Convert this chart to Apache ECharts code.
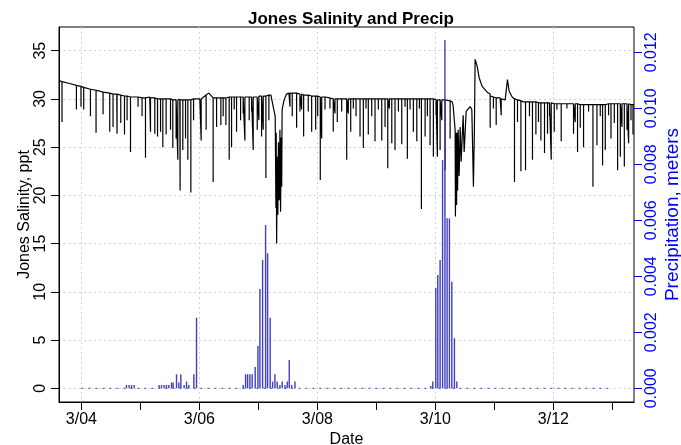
<!DOCTYPE html>
<html>
<head>
<meta charset="utf-8">
<script src="https://cdn.jsdelivr.net/npm/echarts@6/dist/echarts.min.js"></script>
<style>
  html, body { margin: 0; padding: 0; background: #fff; }
  #main { width: 681px; height: 445px; }
</style>
</head>
<body>
<div id="main"></div>
<script>
// x values are days of March (4.5 = 3/04 noon)
var dayTicks = [4, 5, 6, 7, 8, 9, 10, 11, 12, 13];
var dayLabels = [4, 6, 8, 10, 12];
var salinityTicks = [0, 5, 10, 15, 20, 25, 30, 35];
var precipTicks = [0, 0.002, 0.004, 0.006, 0.008, 0.010, 0.012];

// slow salinity trend, [day, ppt]
var salinityTrend = [
  [3.620, 31.9], [3.801, 31.6], [4.022, 31.3], [4.311, 30.8], [4.599, 30.5],
  [4.871, 30.2], [5.159, 30.2], [5.447, 30.1], [5.668, 29.95], [6.007, 30.0],
  [6.160, 30.6], [6.296, 30.1], [6.567, 30.2], [6.855, 30.2], [7.110, 30.3],
  [7.212, 30.4], [7.251, 29.2], [7.285, 28.2], [7.297, 18.7], [7.302, 26.5],
  [7.309, 15.0], [7.320, 24.0], [7.330, 18.0], [7.340, 25.5], [7.353, 19.5],
  [7.365, 26.8], [7.376, 18.3], [7.387, 26.0], [7.395, 20.9], [7.402, 28.9],
  [7.436, 29.9], [7.475, 30.5], [7.518, 30.6], [7.789, 30.4], [8.078, 30.2],
  [8.349, 30.0], [8.587, 30.05], [9.062, 30.0], [9.401, 30.0], [9.741, 30.0],
  [10.131, 29.9], [10.284, 29.7], [10.301, 29.3], [10.318, 28.0], [10.335, 26.8],
  [10.340, 17.8], [10.352, 26.5], [10.360, 19.0], [10.369, 26.5], [10.377, 20.5],
  [10.386, 26.8], [10.403, 22.0], [10.420, 27.1], [10.437, 23.5], [10.471, 28.3],
  [10.488, 24.5], [10.522, 28.7], [10.590, 29.2], [10.618, 28.9], [10.645, 20.9],
  [10.662, 27.0], [10.674, 34.1], [10.708, 33.4], [10.742, 32.2], [10.793, 31.3],
  [10.878, 30.7], [10.929, 30.5], [11.098, 30.1], [11.183, 29.9], [11.222, 32.0],
  [11.251, 30.8], [11.302, 30.2], [11.489, 29.7], [12.066, 29.5], [12.626, 29.4],
  [13.186, 29.5], [13.367, 29.4]
];

// short drops, [day, level before, lowest reading]
var salinityDips = [
  [3.671, 31.8, 27.6], [3.915, 31.4, 28.9], [3.993, 31.3, 29.2], [4.039, 31.2, 28.9],
  [4.153, 31.0, 28.2], [4.248, 30.9, 26.5], [4.367, 30.7, 28.4], [4.480, 30.6, 26.6],
  [4.536, 30.5, 27.1], [4.604, 30.5, 26.4], [4.667, 30.4, 27.5], [4.730, 30.3, 26.3],
  [4.774, 30.3, 27.8], [4.832, 30.2, 24.5], [4.960, 30.2, 29.2], [5.028, 30.1, 28.2],
  [5.086, 30.1, 23.9], [5.171, 30.1, 26.6], [5.244, 30.1, 26.4], [5.290, 30.0, 26.1],
  [5.341, 30.0, 26.6], [5.380, 30.0, 25.0], [5.436, 30.0, 26.3], [5.510, 30.0, 26.8],
  [5.549, 29.9, 24.9], [5.605, 29.9, 25.9], [5.634, 29.9, 23.7], [5.673, 29.9, 20.5],
  [5.719, 29.9, 24.7], [5.765, 29.9, 25.9], [5.804, 29.9, 23.7], [5.855, 29.9, 20.3],
  [5.901, 30.0, 27.8], [6.030, 30.0, 25.7], [6.114, 30.4, 26.8], [6.233, 30.1, 21.4],
  [6.291, 30.1, 27.1], [6.364, 30.1, 27.3], [6.403, 30.1, 28.2], [6.449, 30.1, 27.3],
  [6.505, 30.2, 23.7], [6.545, 30.2, 25.0], [6.590, 30.2, 28.9], [6.630, 30.2, 26.6],
  [6.698, 30.2, 27.8], [6.742, 30.2, 28.5], [6.771, 30.2, 25.7], [6.844, 30.2, 27.8],
  [6.885, 30.2, 28.7], [6.912, 30.2, 24.7], [6.980, 30.2, 26.8], [7.009, 30.3, 27.8],
  [7.054, 30.3, 26.1], [7.082, 30.3, 26.8], [7.127, 30.3, 21.8], [7.178, 30.4, 27.8],
  [7.535, 30.6, 29.2], [7.574, 30.6, 28.2], [7.648, 30.6, 27.0], [7.704, 30.5, 28.7],
  [7.733, 30.5, 28.9], [7.767, 30.4, 26.1], [7.845, 30.4, 28.7], [7.903, 30.3, 26.6],
  [7.971, 30.3, 26.8], [8.005, 30.3, 28.2], [8.049, 30.2, 21.6], [8.073, 30.2, 25.9],
  [8.129, 30.2, 28.9], [8.213, 30.1, 29.0], [8.269, 30.0, 26.6], [8.298, 30.0, 28.5],
  [8.337, 30.0, 27.6], [8.412, 30.0, 28.7], [8.497, 30.0, 23.7], [8.524, 30.0, 28.5],
  [8.565, 30.0, 26.6], [8.609, 30.0, 29.0], [8.655, 30.0, 28.2], [8.723, 30.0, 26.1],
  [8.779, 30.0, 24.9], [8.824, 30.0, 29.0], [8.863, 30.0, 26.3], [8.921, 30.0, 28.2],
  [8.977, 30.0, 25.6], [9.033, 30.0, 28.9], [9.091, 30.0, 25.7], [9.147, 30.0, 27.1],
  [9.193, 30.0, 22.8], [9.220, 30.0, 29.0], [9.261, 30.0, 25.4], [9.316, 30.0, 24.7],
  [9.373, 30.0, 28.7], [9.430, 30.0, 25.3], [9.486, 30.0, 29.2], [9.525, 30.0, 23.8],
  [9.571, 30.0, 28.9], [9.627, 30.0, 26.6], [9.685, 30.0, 25.6], [9.729, 30.0, 29.0],
  [9.763, 30.0, 18.6], [9.826, 30.0, 26.1], [9.865, 30.0, 28.2], [9.910, 30.0, 25.2],
  [9.966, 30.0, 24.0], [10.012, 29.9, 28.3], [10.034, 29.9, 24.0], [10.080, 29.9, 24.7],
  [10.109, 29.9, 27.8], [10.165, 29.9, 22.6], [10.250, 29.8, 25.9],
  [10.929, 30.3, 27.0], [10.984, 30.2, 29.0], [11.031, 30.1, 27.3], [11.116, 30.0, 28.3],
  [11.341, 30.0, 21.4], [11.392, 29.9, 27.6], [11.450, 29.8, 22.5], [11.528, 29.7, 22.6],
  [11.595, 29.7, 28.2], [11.646, 29.7, 23.7], [11.704, 29.7, 26.3], [11.748, 29.6, 27.6],
  [11.789, 29.6, 25.7], [11.850, 29.6, 24.4], [11.901, 29.6, 26.4], [11.935, 29.6, 28.2],
  [11.964, 29.6, 23.7], [12.015, 29.5, 26.6], [12.060, 29.5, 28.9], [12.133, 29.5, 25.6],
  [12.230, 29.5, 29.0], [12.342, 29.5, 26.4], [12.371, 29.5, 27.6], [12.410, 29.5, 24.5],
  [12.456, 29.4, 27.0], [12.512, 29.4, 25.0], [12.597, 29.4, 28.7], [12.671, 29.4, 20.9],
  [12.739, 29.4, 25.2], [12.795, 29.4, 28.2], [12.834, 29.4, 23.1], [12.880, 29.4, 24.7],
  [12.936, 29.5, 28.3], [12.977, 29.5, 25.9], [13.033, 29.5, 27.5], [13.089, 29.5, 22.6],
  [13.135, 29.5, 24.0], [13.163, 29.5, 27.1], [13.203, 29.5, 23.0], [13.248, 29.5, 26.8],
  [13.276, 29.5, 25.4], [13.316, 29.4, 27.8], [13.350, 29.4, 26.3]
];

// hourly precipitation, meters
var precipDay = [
  4.764, 4.808, 4.849, 4.893, 5.317, 5.358, 5.402, 5.442, 5.481, 5.527,
  5.554, 5.612, 5.651, 5.685, 5.741, 5.782, 5.821, 5.906, 5.951,
  6.742, 6.783, 6.817, 6.856, 6.895, 6.946, 6.992, 7.026, 7.071, 7.122,
  7.156, 7.200, 7.241, 7.280, 7.319, 7.365, 7.404, 7.450, 7.489, 7.523,
  7.563, 7.620,
  9.922, 9.956, 10.007, 10.041, 10.080, 10.122, 10.162, 10.199, 10.238, 10.279,
  10.323, 10.364
];
var precipMeters = [
  0.00012, 0.00012, 0.00012, 0.00012, 0.00012, 0.00012, 0.00012, 0.00012, 0.00012, 0.00021,
  0.00021, 0.00050, 0.00021, 0.00050, 0.00012, 0.00024, 0.00012, 0.00050, 0.00252,
  0.00012, 0.00050, 0.00050, 0.00050, 0.00050, 0.00076, 0.00151, 0.00355, 0.00458, 0.00583,
  0.00482, 0.00252, 0.00024, 0.00050, 0.00024, 0.00012, 0.00024, 0.00012, 0.00024, 0.00101,
  0.00012, 0.00024,
  0.00008, 0.00024, 0.00358, 0.00405, 0.00458, 0.00815, 0.01244, 0.00607, 0.00607, 0.00381,
  0.00179, 0.00024
];
var precipZeroSpan = [4.0, 12.93];

var salinityLine = salinityTrend.slice();
salinityDips.forEach(function (d) {
  salinityLine.push([d[0], d[1]], [d[0], d[2]], [d[0], d[1]]);
});
salinityLine.sort(function (a, b) { return a[0] - b[0]; });

var precipBars = precipDay.map(function (d, i) { return [d, precipMeters[i]]; });

var FONT = '"Liberation Sans", Arial, sans-serif';
var GRID = { color: '#d3d3d3', type: [2, 3], width: 1 };

var myChart = echarts.init(document.getElementById('main'));
var option = {
  animation: false,
  backgroundColor: '#fff',
  title: {
    text: 'Jones Salinity and Precip',
    left: 346, top: 6, textAlign: 'center',
    textStyle: { fontFamily: FONT, fontSize: 17, fontWeight: 'bold', color: '#000' }
  },
  grid: {
    left: 59, right: 47, top: 27, bottom: 43,
    outerBoundsMode: 'none', containLabel: false,
    show: true, borderColor: '#000', borderWidth: 1
  },
  xAxis: [{
    type: 'value', min: 3.620, max: 13.367, position: 'bottom',
    axisLine: { show: true, onZero: false, lineStyle: { color: '#000' } },
    axisTick: { customValues: dayTicks, length: 8, lineStyle: { color: '#000' } },
    axisLabel: {
      customValues: dayLabels, margin: 10, fontFamily: FONT, fontSize: 16, color: '#000',
      formatter: function (v) { return '3/' + (v < 10 ? '0' : '') + v; }
    },
    splitLine: { show: false },
    name: 'Date', nameLocation: 'middle', nameGap: 30, nameMoveOverlap: false,
    nameTextStyle: { fontFamily: FONT, fontSize: 16, color: '#000' }
  }, {
    // only carries the dotted vertical grid
    type: 'value', min: 3.620, max: 13.367, position: 'top',
    axisLine: { show: false },
    axisTick: { show: false, customValues: dayLabels },
    axisLabel: { show: false },
    splitLine: { show: true, lineStyle: GRID }
  }],
  yAxis: [{
    type: 'value', min: -1.42, max: 37.456, position: 'left',
    axisLine: { show: true, onZero: false, lineStyle: { color: '#000' } },
    axisTick: { customValues: salinityTicks, length: 8, lineStyle: { color: '#000' } },
    axisLabel: {
      customValues: salinityTicks, rotate: 90, margin: 10,
      fontFamily: FONT, fontSize: 16, color: '#000'
    },
    splitLine: { show: true, lineStyle: GRID },
    name: 'Jones Salinity, ppt', nameLocation: 'middle', nameGap: 26, nameRotate: 90,
    nameMoveOverlap: false,
    nameTextStyle: { fontFamily: FONT, fontSize: 16, color: '#000' }
  }, {
    type: 'value', min: -0.000489, max: 0.012904, position: 'right',
    axisLine: { show: false },
    axisTick: { show: true, customValues: precipTicks, length: 8, lineStyle: { color: '#0000ff' } },
    axisLabel: {
      customValues: precipTicks, rotate: 90, margin: 10,
      fontFamily: FONT, fontSize: 16, color: '#0000ff',
      formatter: function (v) { return v.toFixed(3); }
    },
    splitLine: { show: false },
    name: 'Precipitation, meters', nameLocation: 'middle', nameGap: 29, nameRotate: 90,
    nameMoveOverlap: false,
    nameTextStyle: { fontFamily: FONT, fontSize: 19, color: '#0000ff' }
  }],
  series: [{
    name: 'Salinity', type: 'line', xAxisIndex: 0, yAxisIndex: 0,
    data: salinityLine, showSymbol: false, silent: true,
    lineStyle: { color: '#000', width: 1.2 }, z: 2
  }, {
    name: 'No precip', type: 'line', xAxisIndex: 0, yAxisIndex: 1,
    data: [[precipZeroSpan[0], 0], [precipZeroSpan[1], 0]], showSymbol: false, silent: true,
    lineStyle: { color: '#3f3fbf', width: 1, type: [2, 5] }, z: 3
  }, {
    name: 'Precip', type: 'bar', xAxisIndex: 0, yAxisIndex: 1,
    data: precipBars, barWidth: 1.4, silent: true,
    itemStyle: { color: '#3f3fbf' }, z: 4
  }]
};
myChart.setOption(option);
</script>
</body>
</html>
